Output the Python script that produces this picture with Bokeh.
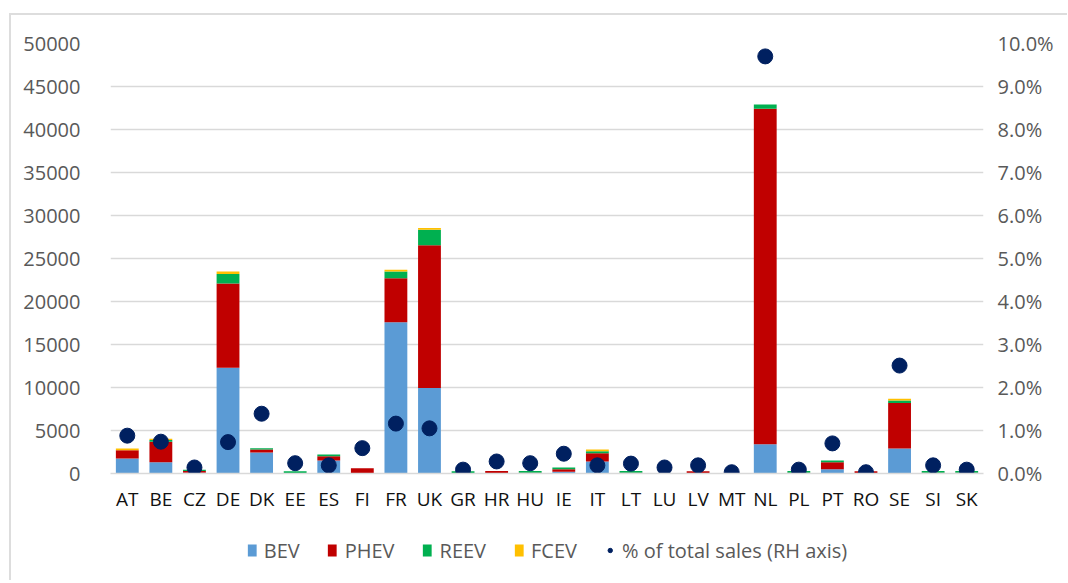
from bokeh.plotting import figure
from bokeh.layouts import column
from bokeh.models import (ColumnDataSource, Range1d, LinearAxis, NumeralTickFormatter,
                          Legend, LegendItem, FixedTicker)
from bokeh.embed import file_html
from bokeh.resources import INLINE

countries = ["AT", "BE", "CZ", "DE", "DK", "EE", "ES", "FI", "FR", "UK", "GR", "HR", "HU", "IE",
             "IT", "LT", "LU", "LV", "MT", "NL", "PL", "PT", "RO", "SE", "SI", "SK"]
bev = [1750, 1300, 100, 12300, 2450, 50, 1500, 50, 17600, 9950, 50, 50, 50, 200,
       1400, 50, 30, 50, 10, 3400, 50, 500, 50, 2900, 50, 50]
phev = [950, 2400, 200, 9800, 350, 20, 500, 550, 5100, 16600, 20, 250, 30, 300,
        950, 30, 20, 200, 10, 39000, 30, 800, 200, 5300, 30, 30]
reev = [0, 200, 150, 1100, 150, 200, 200, 0, 800, 1800, 200, 0, 200, 200,
        250, 200, 0, 0, 0, 500, 200, 200, 0, 300, 200, 200]
fcev = [200, 150, 0, 300, 0, 0, 0, 0, 200, 200, 0, 0, 0, 0,
        200, 0, 0, 0, 0, 0, 0, 0, 0, 200, 0, 0]
pct = [0.0088, 0.0074, 0.0014, 0.0073, 0.0139, 0.0024, 0.0019, 0.0059, 0.0116, 0.0105, 0.0009,
       0.0028, 0.0024, 0.0046, 0.0019, 0.0023, 0.0014, 0.0019, 0.0003, 0.0970, 0.0009,
       0.0070, 0.0003, 0.0251, 0.0019, 0.0009]
left_ticks = [0, 5000, 10000, 15000, 20000, 25000, 30000, 35000, 40000, 45000, 50000]
right_ticks = [0.0, 0.01, 0.02, 0.03, 0.04, 0.05, 0.06, 0.07, 0.08, 0.09, 0.10]

FONT = "Open Sans"
GREY = "#595959"
FS = "20px"

cols = ["BEV", "PHEV", "REEV", "FCEV"]
colors = ["#5B9BD5", "#C00000", "#00B050", "#FFC000"]
dot_color = "#002060"

W = 1056
src = ColumnDataSource(dict(x=countries, BEV=bev, PHEV=phev, REEV=reev, FCEV=fcev, pct=pct))

p = figure(x_range=countries, y_range=Range1d(0, 50000), width=W, height=505,
           output_backend="svg", toolbar_location=None,
           min_border_left=99, min_border_right=84, min_border_top=28, min_border_bottom=47)
p.outline_line_color = None
p.extra_y_ranges = {"pct": Range1d(0, 0.10)}

bars = p.vbar_stack(cols, x="x", width=0.68, color=colors, source=src, line_color=None)
dots = p.scatter("x", "pct", source=src, y_range_name="pct", size=15, color=dot_color,
                 line_color=dot_color)

p.yaxis.ticker = FixedTicker(ticks=left_ticks)
p.yaxis.axis_line_color = None
p.yaxis.major_tick_line_color = None
p.yaxis.minor_tick_line_color = None
p.yaxis.major_label_text_font = FONT
p.yaxis.major_label_text_font_size = FS
p.yaxis.major_label_text_color = GREY
p.yaxis.major_label_standoff = 24

ax2 = LinearAxis(y_range_name="pct", ticker=FixedTicker(ticks=right_ticks),
                 formatter=NumeralTickFormatter(format="0.0%"))
ax2.axis_line_color = None
ax2.major_tick_line_color = None
ax2.minor_tick_line_color = None
ax2.major_label_text_font = FONT
ax2.major_label_text_font_size = FS
ax2.major_label_text_color = GREY
ax2.major_label_standoff = 8
p.add_layout(ax2, "right")

p.xaxis.axis_line_color = "#D9D9D9"
p.xaxis.axis_line_width = 1.5
p.xaxis.major_tick_line_color = None
p.xaxis.minor_tick_line_color = None
p.xaxis.major_label_text_font = FONT
p.xaxis.major_label_text_font_size = "19px"
p.xaxis.major_label_text_color = "#111111"
p.xaxis.major_label_standoff = 6

p.xgrid.grid_line_color = None
p.ygrid.grid_line_color = "#D9D9D9"
p.ygrid.grid_line_width = 1.5

# legend in a separate strip below the chart
lf = figure(width=W, height=60, output_backend="svg", toolbar_location=None,
            x_range=Range1d(0, 1), y_range=Range1d(0, 1),
            min_border_left=99, min_border_right=84, min_border_top=0, min_border_bottom=0)
lf.axis.visible = False
lf.grid.visible = False
lf.outline_line_color = None
hidden = ColumnDataSource(dict(x=[-10], y=[-10]))
leg_r = [lf.vbar(x="x", top="y", width=0.1, source=hidden, color=c, line_color=None)
         for c in colors]
leg_dot = lf.scatter("x", "y", source=hidden, size=11, color=dot_color)
items = [LegendItem(label=c, renderers=[r]) for c, r in zip(cols, leg_r)]
items.append(LegendItem(label="% of total sales (RH axis)", renderers=[leg_dot]))
legend = Legend(items=items, orientation="horizontal", location="center",
                label_text_font=FONT, label_text_font_size=FS, label_text_color=GREY,
                glyph_width=11, glyph_height=15, spacing=27, label_standoff=7,
                border_line_color=None, background_fill_alpha=0, padding=0, margin=0)
lf.add_layout(legend, "center")

layout = column(p, lf, spacing=0, margin=(13, 0, 0, 9),
                styles={"border-left": "2px solid #DDDDDD", "border-top": "2px solid #DDDDDD"})
open("out.html", "w").write(file_html(layout, INLINE))
